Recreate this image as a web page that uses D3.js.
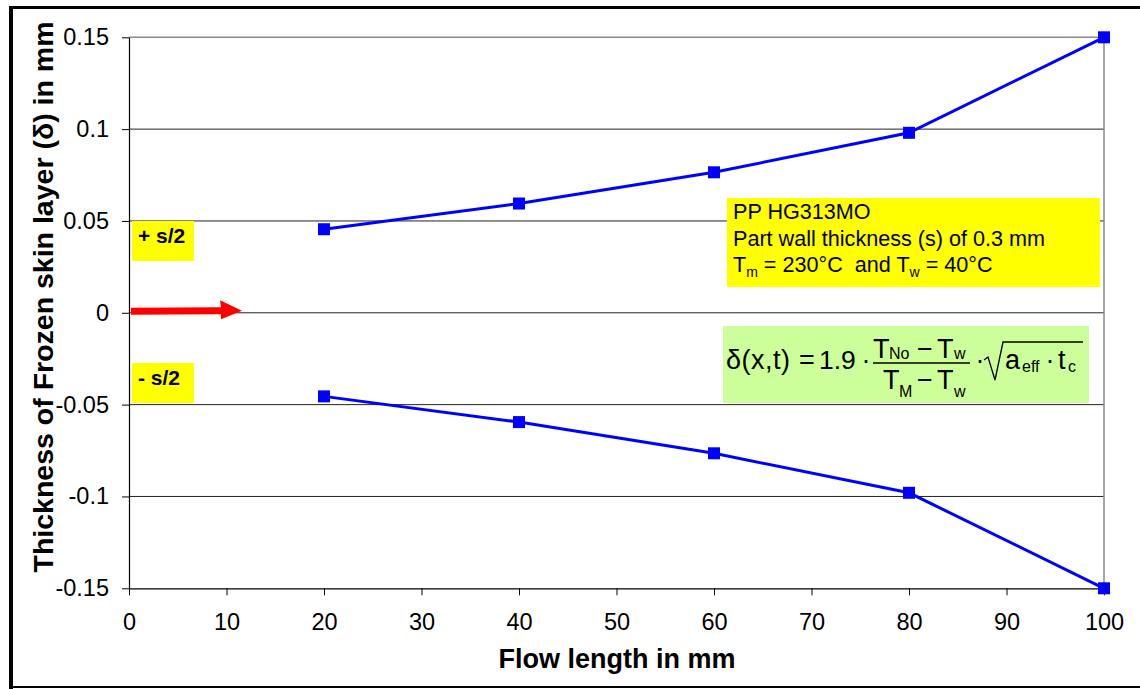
<!DOCTYPE html>
<html>
<head>
<meta charset="utf-8">
<script src="https://cdn.jsdelivr.net/npm/d3@7"></script>
<style>
  body { margin: 0; background: #fff; }
  svg text { font-family: "Liberation Sans", Arial, sans-serif; }
</style>
</head>
<body>
<div id="chart"></div>
<script>
// data
var flowLength = [20, 40, 60, 80, 100];
var upperSkin = [0.0455, 0.0595, 0.0765, 0.098, 0.15];
var lowerSkin = [-0.0455, -0.0595, -0.0765, -0.098, -0.15];
var xTicks = [0, 10, 20, 30, 40, 50, 60, 70, 80, 90, 100];
var yTicks = [-0.15, -0.1, -0.05, 0, 0.05, 0.1, 0.15];
var yTickLabels = ["-0.15", "-0.1", "-0.05", "0", "0.05", "0.1", "0.15"];
var infoLines = ["PP HG313MO", "Part wall thickness (s) of 0.3 mm"];

var W = 1140, H = 689;
var plot = { left: 129, right: 1104, top: 37.3, bottom: 588.3 };

var x = d3.scaleLinear().domain([0, 100]).range([plot.left, plot.right]);
var y = d3.scaleLinear().domain([-0.15, 0.15]).range([plot.bottom, plot.top]);

var svg = d3.select("#chart").append("svg")
    .attr("width", W)
    .attr("height", H);

// outer frame
svg.append("line").attr("x1", 11).attr("x2", 11).attr("y1", 6).attr("y2", 689)
    .attr("stroke", "#000").attr("stroke-width", 4);
svg.append("line").attr("x1", 9).attr("x2", 1140).attr("y1", 7.5).attr("y2", 7.5)
    .attr("stroke", "#000").attr("stroke-width", 3);
svg.append("line").attr("x1", 9).attr("x2", 1140).attr("y1", 687).attr("y2", 687)
    .attr("stroke", "#000").attr("stroke-width", 2);

// horizontal gridlines
svg.append("g")
    .attr("class", "grid-y")
    .selectAll("line")
    .data(yTicks.filter(d => d !== 0.15 && d !== -0.15))
    .enter()
    .append("line")
    .attr("x1", plot.left).attr("x2", plot.right)
    .attr("y1", d => y(d)).attr("y2", d => y(d))
    .attr("stroke", "#222").attr("stroke-width", 1);

// plot area border (top + right), grey
svg.append("path")
    .attr("d", "M" + plot.left + "," + y(0.15) + "H" + x(100) + "V" + y(-0.15))
    .attr("fill", "none").attr("stroke", "#8a8a8a").attr("stroke-width", 1.5);

// axes
var xAxis = svg.append("g")
    .attr("transform", "translate(0," + y(-0.15) + ")")
    .call(d3.axisBottom(x).tickValues(xTicks).tickSize(7).tickPadding(18).tickSizeOuter(0));
var yAxis = svg.append("g")
    .attr("transform", "translate(" + x(0) + ",0)")
    .call(d3.axisLeft(y).tickValues(yTicks).tickSize(7).tickPadding(13).tickSizeOuter(0)
        .tickFormat((d, i) => yTickLabels[i]));
[xAxis, yAxis].forEach(function (g) {
    g.selectAll("text").attr("font-size", 23.5).attr("fill", "#000")
        .attr("font-family", "'Liberation Sans', Arial, sans-serif");
    g.selectAll("line").attr("stroke", "#000");
    g.select(".domain").attr("stroke", "#000").attr("stroke-width", 1.2);
});

// axis titles
svg.append("text")
    .attr("x", 617).attr("y", 668)
    .attr("text-anchor", "middle")
    .attr("font-size", 27).attr("font-weight", "bold")
    .text("Flow length in mm");
svg.append("text")
    .attr("transform", "translate(53,297) rotate(-90)")
    .attr("text-anchor", "middle")
    .attr("font-size", 28.5).attr("font-weight", "bold")
    .text("Thickness of Frozen skin layer (\u03B4) in mm");

// s/2 labels
[["+ s/2", 221, 243], ["- s/2", 363, 385]].forEach(function (l) {
    svg.append("rect").attr("x", 132).attr("y", l[1]).attr("width", 62).attr("height", 40)
        .attr("fill", "#ffff00");
    svg.append("text").attr("x", 138).attr("y", l[2])
        .attr("font-size", 21).attr("font-weight", "bold").text(l[0]);
});

// red arrow at the mid plane
svg.append("path")
    .attr("d", "M131," + (y(0) - 5) + "L221," + (y(0) - 5.5) + "L220," + (y(0) - 12.5) +
        "L242," + (y(0) - 2) + "L221," + (y(0) + 6.5) + "L221," + (y(0) + 1.5) + "L131," + (y(0) + 2) + "Z")
    .attr("fill", "#ff0000");

// data lines
var line = d3.line()
    .x((d, i) => x(flowLength[i]))
    .y(d => y(d));

[upperSkin, lowerSkin].forEach(function (series) {
    svg.append("path")
        .datum(series)
        .attr("d", line)
        .attr("fill", "none")
        .attr("stroke", "#0000ff")
        .attr("stroke-width", 3);
    svg.append("g").selectAll("rect")
        .data(series)
        .enter()
        .append("rect")
        .attr("x", (d, i) => x(flowLength[i]) - 6)
        .attr("y", d => y(d) - 6)
        .attr("width", 12).attr("height", 12)
        .attr("fill", "#0000ff");
});

// info box
svg.append("rect").attr("x", 727).attr("y", 198).attr("width", 373).attr("height", 89)
    .attr("fill", "#ffff00");
infoLines.forEach(function (t, i) {
    svg.append("text").attr("x", 733).attr("y", 219 + i * 26.5)
        .attr("font-size", 21.6).text(t);
});
var l3 = svg.append("text").attr("x", 733).attr("y", 272).attr("font-size", 21.6);
l3.append("tspan").text("T");
l3.append("tspan").attr("font-size", 14).attr("dy", 5).text("m");
l3.append("tspan").attr("dy", -5).text(" = 230\u00B0C\u00A0\u00A0and T");
l3.append("tspan").attr("font-size", 14).attr("dy", 5).text("w");
l3.append("tspan").attr("dy", -5).text(" = 40\u00B0C");

// formula box
svg.append("rect").attr("x", 723).attr("y", 326).attr("width", 366).attr("height", 77)
    .attr("fill", "#ccff99");
var f = svg.append("g");
function ft(xp, yp, s, size, anchor) {
    return f.append("text").attr("x", xp).attr("y", yp).attr("font-size", size || 27)
        .attr("text-anchor", anchor || "start").text(s);
}
ft(726, 369, "\u03B4(x,t)", 27).attr("textLength", 64).attr("lengthAdjust", "spacing");
ft(807, 369, "=", 27, "middle");
ft(819, 369, "1.9", 26.5);
ft(866, 369, "\u00B7", 27, "middle");
// numerator
ft(873, 358, "T");
ft(889, 359, "No", 16);
ft(925, 358, "\u2212", 27, "middle");
ft(937, 358, "T");
ft(954, 359, "w", 16);
f.append("line").attr("x1", 873).attr("x2", 970).attr("y1", 363).attr("y2", 363)
    .attr("stroke", "#000").attr("stroke-width", 1.3);
// denominator
ft(883, 389, "T");
ft(899, 397, "M", 16);
ft(925, 389, "\u2212", 27, "middle");
ft(937, 389, "T");
ft(954, 397, "w", 16);
ft(980, 369, "\u00B7", 27, "middle");
// square root
f.append("path")
    .attr("d", "M984,360 L988,357 L995,380 L1003,342 L1083,342")
    .attr("fill", "none").attr("stroke", "#000").attr("stroke-width", 1.3);
ft(1005, 369, "a");
ft(1022, 372, "eff", 16);
ft(1050, 369, "\u00B7", 27, "middle");
ft(1058, 369, "t");
ft(1068, 372, "c", 16);
</script>
</body>
</html>
